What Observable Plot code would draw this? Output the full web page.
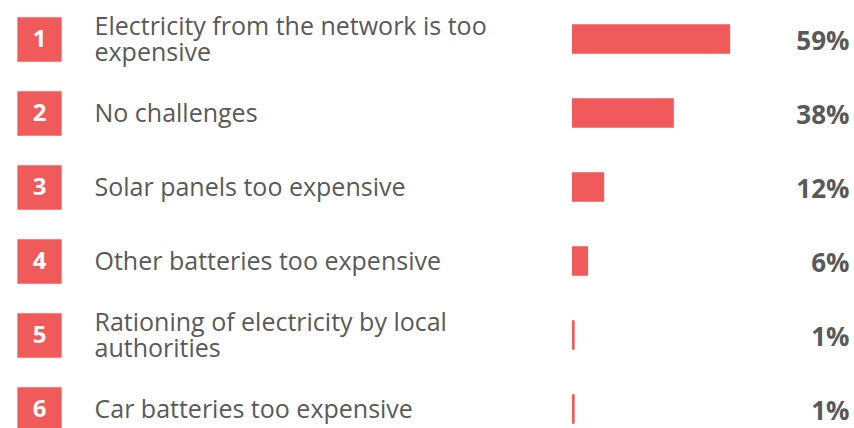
<!DOCTYPE html>
<html>
<head>
<meta charset="utf-8">
<script src="https://cdn.jsdelivr.net/npm/d3@7"></script>
<script src="https://cdn.jsdelivr.net/npm/@observablehq/plot@0.6"></script>
<style>
  html, body { margin: 0; padding: 0; background: #fff; }
  #chart svg { display: block; }
</style>
</head>
<body>
<div id="chart"></div>
<script>
const ranks = [1, 2, 3, 4, 5, 6];
const labels = [
  "Electricity from the network is too\nexpensive",
  "No challenges",
  "Solar panels too expensive",
  "Other batteries too expensive",
  "Rationing of electricity by local\nauthorities",
  "Car batteries too expensive"
];
const values = [59, 38, 12, 6, 1, 1];

const data = ranks.map((r, i) => ({rank: String(r), label: labels[i], value: values[i]}));

const red = "#f05a5b";
const grey = "#595959";
const font = "'Open Sans', 'Noto Sans', sans-serif";

const chart = Plot.plot({
  width: 854,
  height: 428,
  margin: 0,
  style: {fontFamily: font, background: "#fff"},
  x: {domain: [0, 100], range: [572, 840], axis: null},
  y: {domain: data.map(d => d.rank), range: [0.75, 447.75], padding: 0, axis: null},
  marks: [
    Plot.barX(data, {x1: 0, x2: "value", y: "rank", fill: red, insetTop: 22.25, insetBottom: 22.25}),
    Plot.dot(data, {y: "rank", frameAnchor: "left", dx: 39, symbol: "square", r: 25, fill: red, stroke: null}),
    Plot.text(data, {y: "rank", text: "rank", frameAnchor: "left", dx: 39, fill: "#fff", fontSize: 24, fontWeight: "bold", textAnchor: "middle"}),
    Plot.text(data, {y: "rank", text: "label", frameAnchor: "left", dx: 94, textAnchor: "start", fill: grey, fontSize: 25, lineHeight: 1.04}),
    Plot.text(data, {y: "rank", text: d => d.value + "%", frameAnchor: "right", dx: -5, dy: 2, textAnchor: "end", fill: grey, fontSize: 26, fontWeight: "bold"})
  ]
});
document.getElementById("chart").append(chart);
</script>
</body>
</html>
